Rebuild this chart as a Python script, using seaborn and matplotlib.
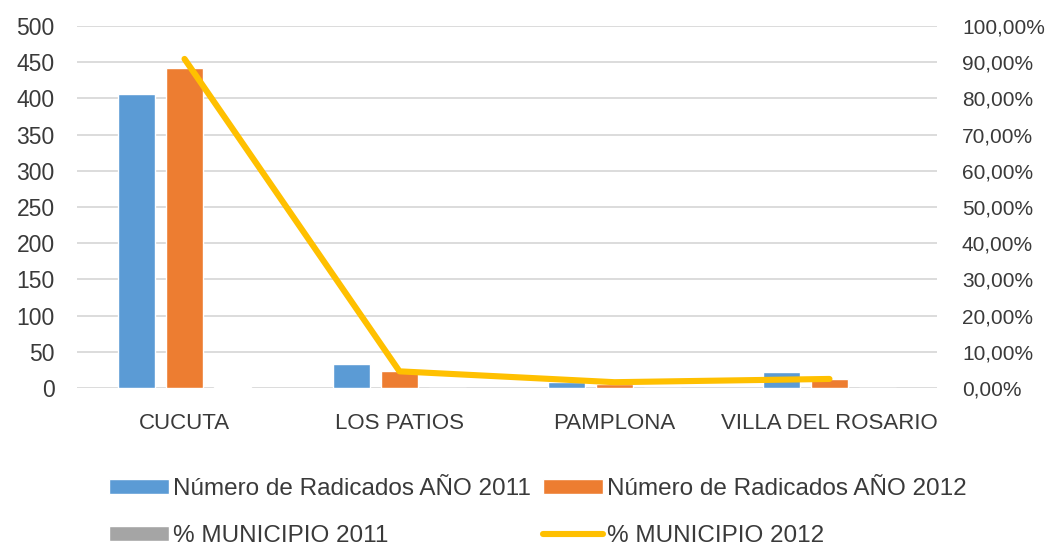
import numpy as np
import pandas as pd
import matplotlib
matplotlib.use("Agg")
import matplotlib.pyplot as plt
import seaborn as sns
from matplotlib.patches import Patch
from matplotlib.lines import Line2D
from matplotlib.ticker import FuncFormatter, MultipleLocator

categories = ["CUCUTA", "LOS PATIOS", "PAMPLONA", "VILLA DEL ROSARIO"]
radicados_2011 = [406, 33, 8, 22]
radicados_2012 = [442, 23, 5, 12]
pct_2011 = [0.866, 0.070, 0.017, 0.047]
pct_2012 = [0.909, 0.046, 0.016, 0.025]

s_2011 = "Número de Radicados AÑO 2011"
s_2012 = "Número de Radicados AÑO 2012"
s_p11 = "% MUNICIPIO 2011"
s_p12 = "% MUNICIPIO 2012"

C_BLUE = "#5B9BD5"
C_ORANGE = "#ED7D31"
C_GRAY = "#A5A5A5"
C_YELLOW = "#FFC000"
TXT = "#3A3A3A"

sns.set_style("white")
plt.rcParams["font.family"] = ["Liberation Sans", "DejaVu Sans"]

df = pd.DataFrame({
    "cat": categories * 3,
    "serie": [s_2011] * 4 + [s_2012] * 4 + [s_p11] * 4,
    "val": radicados_2011 + radicados_2012 + pct_2011,
})

fig = plt.figure(figsize=(10.58, 5.47), dpi=100)
ax = fig.add_axes([0.0728, 0.2907, 0.8128, 0.6618])

sns.barplot(data=df, x="cat", y="val", hue="serie", order=categories,
            hue_order=[s_2011, s_2012, s_p11],
            palette=[C_BLUE, C_ORANGE, C_GRAY], width=0.67, gap=0.22,
            saturation=1, ax=ax, legend=False, zorder=2)

ax.set_ylim(0, 500)
ax.set_xlim(-0.5, 3.5)
ax.yaxis.set_major_locator(MultipleLocator(50))
ax.grid(axis="y", color="#D9D9D9", linewidth=1.3, zorder=0)
ax.set_axisbelow(True)
for sp in ax.spines.values():
    sp.set_visible(False)
ax.set_xlabel("")
ax.set_ylabel("")
ax.tick_params(axis="y", length=0, pad=16, labelsize=16.5, labelcolor=TXT)
ax.tick_params(axis="x", length=0, pad=18, labelsize=16, labelcolor=TXT)

ax2 = ax.twinx()
line_df = pd.DataFrame({"x": np.arange(len(categories)), "p": pct_2012})
sns.lineplot(data=line_df, x="x", y="p", color=C_YELLOW, linewidth=4.4,
             solid_capstyle="round", solid_joinstyle="round", ax=ax2)
ax2.set_ylim(0, 1.0)
ax2.set_xlim(-0.5, 3.5)
ax2.yaxis.set_major_locator(MultipleLocator(0.1))
ax2.yaxis.set_major_formatter(FuncFormatter(lambda v, _: f"{v*100:.2f}%".replace(".", ",")))
for sp in ax2.spines.values():
    sp.set_visible(False)
ax2.set_ylabel("")
ax2.set_xlabel("")
ax2.tick_params(axis="y", length=0, pad=18, labelsize=15, labelcolor=TXT)

handles = [
    Patch(facecolor=C_BLUE, label=s_2011),
    Patch(facecolor=C_GRAY, label=s_p11),
    Patch(facecolor=C_ORANGE, label=s_2012),
    Line2D([0], [0], color=C_YELLOW, linewidth=4.4, solid_capstyle="round", label=s_p12),
]
leg = fig.legend(handles=handles, ncol=2, loc="center", bbox_to_anchor=(0.5085, 0.063),
                 frameon=False, fontsize=17.5, handlelength=2.47, handleheight=0.55,
                 handletextpad=0.16, columnspacing=0.5, labelspacing=1.05,
                 borderpad=0.2)
for t in leg.get_texts():
    t.set_color(TXT)

fig.savefig("out.png", dpi=100)
